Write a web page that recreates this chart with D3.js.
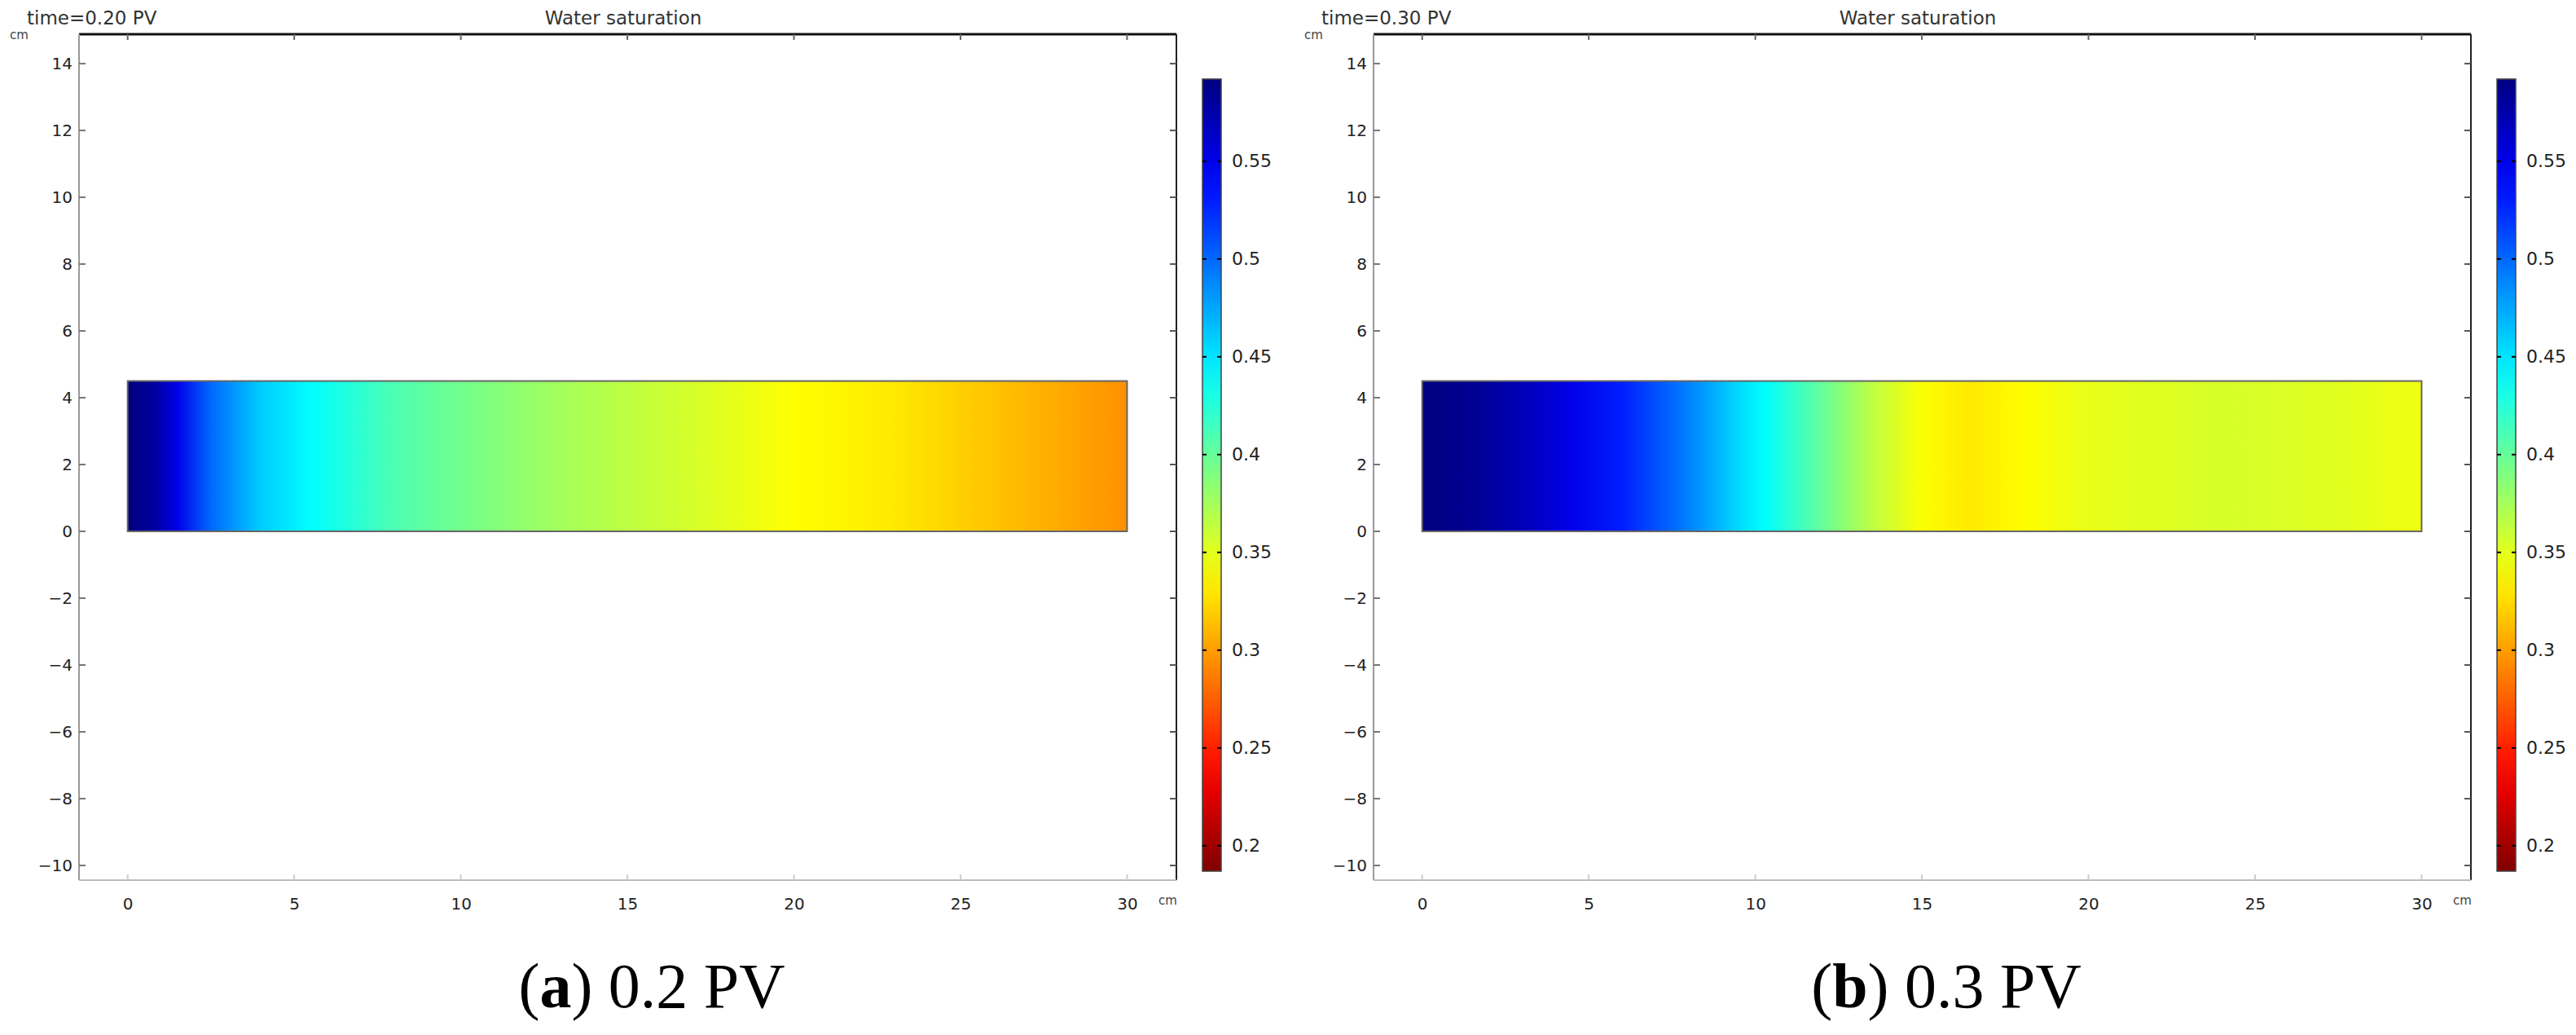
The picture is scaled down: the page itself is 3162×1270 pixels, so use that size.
<!DOCTYPE html>
<html><head><meta charset="utf-8">
<script src="https://cdn.jsdelivr.net/npm/d3@7"></script>
<style>body{margin:0;background:#fff}</style>
</head><body><svg id="c" width="3162" height="1270"></svg>
<script>
// ---- data ----
const xTicks = [0,5,10,15,20,25,30];
const yTicks = [-10,-8,-6,-4,-2,0,2,4,6,8,10,12,14];
const cbTicks = [0.2,0.25,0.3,0.35,0.4,0.45,0.5,0.55];
const satMin = 0.187, satMax = 0.592;
const titlesA = "time=0.20 PV", titlesB = "time=0.30 PV";
const captionsA = "0.2 PV", captionsB = "0.3 PV";
const profA_x = [0,0.8,1.5,2.5,4,5.5,8,10,13,16,18,20,23,26,28,30];
const profA_s = [0.592,0.58,0.55,0.50,0.46,0.44,0.41,0.395,0.375,0.36,0.35,0.339,0.33,0.315,0.305,0.295];
const profB_x = [0,1.5,3,4.5,6,8,9.5,10.3,12,13.5,15,16.5,18,20,24,27,30];
const profB_s = [0.592,0.585,0.57,0.55,0.53,0.49,0.455,0.44,0.40,0.365,0.34,0.33,0.338,0.348,0.355,0.352,0.345];
const domain = {x0:0, x1:30, y0:0, y1:4.5};

const svg = d3.select("#c");
const defs = svg.append("defs");
// jet colormap (reversed: high = blue)
const jetStops = [[0,"#000080"],[0.125,"#0000ff"],[0.375,"#00ffff"],[0.625,"#ffff00"],[0.875,"#ff0000"],[1,"#800000"]];
const jet = d3.scaleLinear().domain(jetStops.map(d=>d[0])).range(jetStops.map(d=>d[1])).interpolate(d3.interpolateRgb);
const color = v => jet((satMax - v)/(satMax - satMin));

function panel(ox, title, caption, label, px, ps, id){
  const g = svg.append("g").attr("transform",`translate(${ox},0)`);
  const L=97, R=1444, T=42, B=1080;
  const x = d3.scaleLinear().domain([-1.46,31.48]).range([L,R]);
  const y = d3.scaleLinear().domain([-10.44,14.88]).range([B,T]);
  // gradient
  const grad = defs.append("linearGradient").attr("id",id).attr("gradientUnits","userSpaceOnUse")
    .attr("x1",x(0)+ox).attr("x2",x(30)+ox).attr("y1",0).attr("y2",0);
  // gradientUnits userSpaceOnUse relative to element's user space (inside g) -> use local coords
  grad.attr("x1",x(0)).attr("x2",x(30));
  px.forEach((p,i)=>grad.append("stop").attr("offset",p/30).attr("stop-color",color(ps[i])));
  g.append("rect").attr("x",x(domain.x0)).attr("y",y(domain.y1)).attr("width",x(domain.x1)-x(domain.x0))
    .attr("height",y(domain.y0)-y(domain.y1)).attr("fill",`url(#${id})`).attr("stroke","#666").attr("stroke-width",2);
  // frame
  g.append("line").attr("x1",L).attr("x2",R).attr("y1",T).attr("y2",T).attr("stroke","#111").attr("stroke-width",3);
  g.append("line").attr("x1",R).attr("x2",R).attr("y1",T).attr("y2",B).attr("stroke","#222").attr("stroke-width",2);
  g.append("line").attr("x1",L).attr("x2",L).attr("y1",T).attr("y2",B).attr("stroke","#999").attr("stroke-width",2);
  g.append("line").attr("x1",L).attr("x2",R).attr("y1",B).attr("y2",B).attr("stroke","#bbb").attr("stroke-width",2);
  const font = "DejaVu Sans, sans-serif";
  // axes
  const ax = g.append("g").attr("transform",`translate(0,${B})`).call(d3.axisBottom(x).tickValues(xTicks).tickSize(0).tickPadding(22));
  ax.select(".domain").remove();
  ax.selectAll("text").attr("font-family",font).attr("font-size",20).attr("fill","#222");
  const ay = g.append("g").attr("transform",`translate(${L},0)`).call(d3.axisLeft(y).tickValues(yTicks).tickSize(0).tickPadding(8));
  ay.select(".domain").remove();
  ay.selectAll("text").attr("font-family",font).attr("font-size",20).attr("fill","#222");
  // inner ticks
  xTicks.forEach(t=>{
    g.append("line").attr("x1",x(t)).attr("x2",x(t)).attr("y1",T).attr("y2",T+7).attr("stroke","#666").attr("stroke-width",2);
    g.append("line").attr("x1",x(t)).attr("x2",x(t)).attr("y1",B).attr("y2",B-7).attr("stroke","#ccc").attr("stroke-width",2);
  });
  yTicks.forEach(t=>{
    g.append("line").attr("x1",L).attr("x2",L+8).attr("y1",y(t)).attr("y2",y(t)).attr("stroke","#777").attr("stroke-width",2);
    g.append("line").attr("x1",R).attr("x2",R-8).attr("y1",y(t)).attr("y2",y(t)).attr("stroke","#555").attr("stroke-width",2);
  });
  g.append("text").attr("x",33).attr("y",30).attr("font-family",font).attr("font-size",23).attr("fill","#333").text(title);
  g.append("text").attr("x",765).attr("y",30).attr("text-anchor","middle").attr("font-family",font).attr("font-size",23).attr("fill","#333").text("Water saturation");
  g.append("text").attr("x",12).attr("y",48).attr("font-family",font).attr("font-size",15).attr("fill","#444").text("cm");
  g.append("text").attr("x",1422).attr("y",1110).attr("font-family",font).attr("font-size",15).attr("fill","#444").text("cm");
  // colorbar
  const cy = d3.scaleLinear().domain([satMin,satMax]).range([1069,97]);
  const cg = defs.append("linearGradient").attr("id",id+"cb").attr("x1",0).attr("x2",0).attr("y1",1).attr("y2",0);
  d3.range(0,1.0001,0.05).forEach(t=>cg.append("stop").attr("offset",t).attr("stop-color",color(satMin+t*(satMax-satMin))));
  g.append("rect").attr("x",1476).attr("y",cy(satMax)).attr("width",23).attr("height",cy(satMin)-cy(satMax))
    .attr("fill",`url(#${id}cb)`).attr("stroke","#444").attr("stroke-width",1.5);
  const ac = g.append("g").attr("transform","translate(1499,0)").call(d3.axisRight(cy).tickValues(cbTicks).tickFormat(d=>String(+d.toFixed(2))).tickSize(0).tickPadding(13));
  ac.select(".domain").remove();
  ac.selectAll("text").attr("font-family",font).attr("font-size",22).attr("fill","#222");
  cbTicks.forEach(t=>{
    g.append("line").attr("x1",1476).attr("x2",1481).attr("y1",cy(t)).attr("y2",cy(t)).attr("stroke","#000").attr("stroke-width",2);
    g.append("line").attr("x1",1494).attr("x2",1499).attr("y1",cy(t)).attr("y2",cy(t)).attr("stroke","#000").attr("stroke-width",2);
  });
  // caption
  const cap = g.append("text").attr("x",800).attr("y",1236).attr("text-anchor","middle")
    .attr("font-family","Liberation Serif, Times New Roman, serif").attr("font-size",78).attr("fill","#000");
  cap.append("tspan").text("(");
  cap.append("tspan").attr("font-weight","bold").text(label);
  cap.append("tspan").text(") " + caption);
}
panel(0, titlesA, captionsA, "a", profA_x, profA_s, "gA");
panel(1589, titlesB, captionsB, "b", profB_x, profB_s, "gB");
</script></body></html>
